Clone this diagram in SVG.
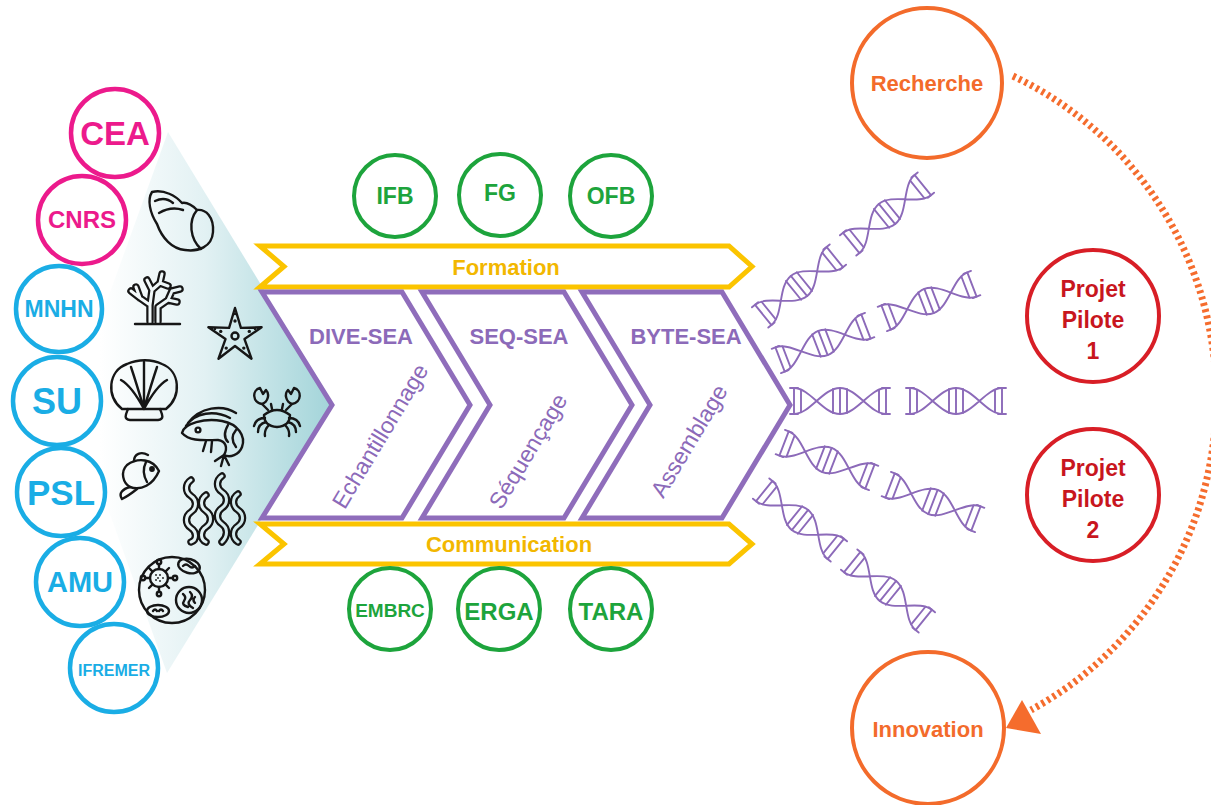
<svg xmlns="http://www.w3.org/2000/svg" width="1211" height="805" viewBox="0 0 1211 805">
  <defs>
    <!-- soft teal fan behind the marine icons -->
    <linearGradient id="sea" gradientUnits="userSpaceOnUse" x1="100" y1="0" x2="333" y2="0">
      <stop offset="0" stop-color="#ffffff"/>
      <stop offset="0.45" stop-color="#e2f1f3"/>
      <stop offset="1" stop-color="#a2d4d9"/>
    </linearGradient>
    <!-- one DNA double helix, centred on the origin -->
    <g id="helix" fill="none" stroke="#8c6ab9" stroke-width="1.9" stroke-linecap="round">
      <path d="M-46,13 C-30,13 -17,-13 0,-13 C17,-13 30,13 46,13 M-46,-13 C-30,-13 -17,13 0,13 C17,13 30,-13 46,-13"/>
      <path d="M-46,-13V13 M-39,-11.3V11.3 M-7,-12V12 M0,-13V13 M7,-12V12 M39,-11.3V11.3 M46,-13V13 M-50,-13H-42 M-50,13H-42 M42,-13H50 M42,13H50"/>
    </g>
  </defs>
  <style>
    text { font-family: "Liberation Sans", Arial, sans-serif; font-weight: bold; text-anchor: middle; }
    .pink { fill: #fff; stroke: #ec1a8c; stroke-width: 4.5; }
    .blue { fill: #fff; stroke: #1aade5; stroke-width: 4.5; }
    .green { fill: #fff; stroke: #1da43c; stroke-width: 4; }
    .red { fill: #fff; stroke: #d81e26; stroke-width: 4; }
    .orange { fill: #fff; stroke: #f36b2b; stroke-width: 4; }
    .t-pink { fill: #ec1a8c; }
    .t-blue { fill: #1aade5; }
    .t-green { fill: #1da43c; }
    .t-red { fill: #c8161e; }
    .t-orange { fill: #f36b2b; }
    .t-yellow { fill: #f2b700; }
    .t-purple { fill: #8c6ab9; }
    .banner { fill: #fff; stroke: #fbc400; stroke-width: 5; stroke-linejoin: miter; }
    .chevron { fill: #fff; stroke: #8f6dbb; stroke-width: 5; stroke-linejoin: miter; }
    .icon { fill: none; stroke: #161616; stroke-width: 2.4; stroke-linecap: round; stroke-linejoin: round; }
    .ol-out { fill: none; stroke: #161616; stroke-width: 7.5; stroke-linecap: round; stroke-linejoin: round; }
    .ol-in { fill: none; stroke: url(#sea); stroke-width: 3; stroke-linecap: round; stroke-linejoin: round; }
    .dot { fill: #161616; }
    .rot { font-weight: normal; font-size: 23px; }
  </style>

  <rect width="1211" height="805" fill="#fff"/>

  <!-- marine biodiversity fan -->
  <g id="biodiversity">
    <polygon points="168,132 333,403 167,673 70,403" fill="url(#sea)"/>
    <!-- conch -->
    <g class="icon">
      <path d="M152,192 C147,200 150,213 157,224 C162,238 172,249 185,250 C198,252 212,247 213,232 C214,217 206,209 197,210 C191,204 187,202 182,203 C176,196 164,189 152,192 Z"/>
      <path d="M155,201 Q165,196 173,203 M159,213 Q171,206 183,210 M197,210 C188,221 190,239 201,249"/>
    </g>
    <!-- coral -->
    <path class="ol-out" d="M150,321 L150,305 L140,298 L131,291 M140,298 L136,287 M150,305 L152,290 L147,280 M152,290 L160,283 L162,274 M160,283 L168,286 M158,321 L158,307 L168,300 L177,302 M168,300 L172,291 L180,289"/>
    <path class="ol-in" d="M150,323 L150,305 L140,298 L131,291 M140,298 L136,287 M150,305 L152,290 L147,280 M152,290 L160,283 L162,274 M160,283 L168,286 M158,323 L158,307 L168,300 L177,302 M168,300 L172,291 L180,289"/>
    <path class="icon" d="M135,324 L180,324"/>
    <!-- starfish -->
    <g>
      <polygon class="icon" points="235,308 240.9,327.9 261.6,327.3 244.5,339.1 251.5,358.7 235,346 218.5,358.7 225.5,339.1 208.4,327.3 229.1,327.9"/>
      <circle class="icon" cx="235" cy="336" r="3.5"/>
      <circle class="dot" cx="235" cy="321" r="1.7"/>
      <circle class="dot" cx="249.3" cy="331.4" r="1.7"/>
      <circle class="dot" cx="243.8" cy="348.1" r="1.7"/>
      <circle class="dot" cx="226.2" cy="348.1" r="1.7"/>
      <circle class="dot" cx="220.7" cy="331.4" r="1.7"/>
      <circle class="dot" cx="255" cy="329" r="1.2"/>
      <circle class="dot" cx="215" cy="329" r="1.2"/>
      <circle class="dot" cx="235" cy="314" r="1.2"/>
    </g>
    <!-- scallop -->
    <g class="icon">
      <path d="M122,409 C106,396 108,371 127,364 C138,359 152,359 162,364 C180,371 182,396 166,409 Z"/>
      <path d="M128,409 C126,414 123,419 130,420 L158,420 C165,419 162,414 160,409"/>
      <path d="M144,409 C136,394 128,384 121,380 M144,409 C139,392 134,376 131,367 M144,409 L144,362 M144,409 C149,392 154,376 157,367 M144,409 C152,394 160,384 167,380"/>
    </g>
    <!-- crab -->
    <g class="icon">
      <path d="M264,415 Q277,405 290,415 Q290,426 277,427 Q264,426 264,415 Z"/>
      <path d="M268,410 L262,404 C252,402 252,390 260,388 L263,394 L266,390 C270,394 268,402 262,404"/>
      <path d="M286,410 L292,404 C302,402 302,390 294,388 L291,394 L288,390 C284,394 286,402 292,404"/>
      <path d="M265,418 Q256,418 254,426 M266,422 Q258,424 258,432 M269,425 Q264,430 265,436 M289,418 Q298,418 300,426 M288,422 Q296,424 296,432 M285,425 Q290,430 289,436"/>
      <path d="M272,409 L271,404 M282,409 L283,404"/>
    </g>
    <!-- shrimp -->
    <g class="icon">
      <path d="M182,433 C184,423 205,418 222,421 C238,424 246,436 242,447 C239,455 230,458 224,455 C228,448 226,441 218,440 C205,440 190,442 182,433 Z"/>
      <path d="M224,455 L215,461 M224,455 L221,466 M224,455 L229,465"/>
      <circle cx="198" cy="430" r="2.4"/>
      <path d="M186,426 C195,412 215,410 230,418 M188,423 C200,407 222,404 236,413"/>
      <path d="M228,425 C224,432 224,438 228,442 M236,430 C231,436 232,442 236,447"/>
      <path d="M206,441 L203,451 M212,441 L211,452"/>
    </g>
    <!-- fish -->
    <g class="icon">
      <path d="M159,471 C153,459 138,457 127,465 C120,472 123,483 130,487 C141,491 153,485 159,471 Z"/>
      <path d="M130,487 C123,489 118,493 122,499 C128,496 132,493 137,489"/>
      <path d="M134,461 C134,454 141,451 148,455"/>
      <path d="M146,462 C143,468 143,475 147,482"/>
      <circle class="dot" cx="152" cy="469" r="1.7"/>
    </g>
    <!-- seaweed -->
    <path class="ol-out" d="M191,480 c-6,4 -6,12 0,16 c6,4 6,12 0,16 c-6,4 -6,12 0,16 c6,4 6,12 0,14 M206,495 c-6,4 -6,12 0,16 c6,4 6,12 0,16 c-6,4 -6,12 0,15 M222,476 c-6,4 -6,12 0,16 c6,4 6,12 0,16 c-6,4 -6,12 0,16 c6,4 6,12 0,18 M238,494 c-6,4 -6,12 0,16 c6,4 6,12 0,16 c-6,4 -6,12 0,16"/>
    <path class="ol-in" d="M191,480 c-6,4 -6,12 0,16 c6,4 6,12 0,16 c-6,4 -6,12 0,16 c6,4 6,12 0,14 M206,495 c-6,4 -6,12 0,16 c6,4 6,12 0,16 c-6,4 -6,12 0,15 M222,476 c-6,4 -6,12 0,16 c6,4 6,12 0,16 c-6,4 -6,12 0,16 c6,4 6,12 0,18 M238,494 c-6,4 -6,12 0,16 c6,4 6,12 0,16 c-6,4 -6,12 0,16"/>
    <!-- plankton sample -->
    <g class="icon">
      <circle cx="172" cy="590" r="33"/>
      <circle cx="159" cy="578" r="9"/>
      <path d="M159,569 V564 M168,578 H173 M159,587 V592 M150,578 H145 M165.4,571.6 L169,568 M165.4,584.4 L169,588 M152.6,584.4 L149,588 M152.6,571.6 L149,568"/>
      <circle cx="159" cy="562" r="2.2"/>
      <circle cx="175" cy="578" r="2.2"/>
      <circle cx="159" cy="594" r="2.2"/>
      <circle cx="143" cy="578" r="2.2"/>
      <ellipse cx="189" cy="566" rx="11" ry="7" transform="rotate(15 189 566)"/>
      <path d="M183,566 q3,-3 6,0 t6,0"/>
      <circle cx="189" cy="600" r="13"/>
      <path d="M183,594 q4,3 1,7 t4,6 M190,592 q4,4 0,8 t3,8 M195,597 q-3,3 0,6"/>
      <ellipse cx="158" cy="611" rx="11" ry="6"/>
      <path d="M153,611 q2,-3 4,0 M159,611 q2,-3 4,0"/>
    </g>
    <g class="dot">
      <circle cx="156" cy="575" r="0.9"/><circle cx="160" cy="575" r="0.9"/><circle cx="163" cy="578" r="0.9"/>
      <circle cx="156" cy="580" r="0.9"/><circle cx="160" cy="581" r="0.9"/><circle cx="158" cy="578" r="0.9"/>
    </g>
  </g>

  <!-- partner institutions -->
  <g id="cea"><circle class="pink" cx="115" cy="133" r="44"/><text class="t-pink" x="115" y="145" font-size="33">CEA</text></g>
  <g id="cnrs"><circle class="pink" cx="82" cy="220" r="44"/><text class="t-pink" x="82" y="228" font-size="24">CNRS</text></g>
  <g id="mnhn"><circle class="blue" cx="59" cy="309" r="43"/><text class="t-blue" x="59" y="317" font-size="23">MNHN</text></g>
  <g id="su"><circle class="blue" cx="57" cy="401" r="44"/><text class="t-blue" x="57" y="414" font-size="36">SU</text></g>
  <g id="psl"><circle class="blue" cx="61" cy="492" r="44"/><text class="t-blue" x="61" y="505" font-size="35">PSL</text></g>
  <g id="amu"><circle class="blue" cx="80" cy="582" r="44"/><text class="t-blue" x="80" y="592" font-size="29">AMU</text></g>
  <g id="ifremer"><circle class="blue" cx="114" cy="668" r="44"/><text class="t-blue" x="114" y="676" font-size="16">IFREMER</text></g>

  <!-- training / outreach banners -->
  <g id="formation">
    <polygon class="banner" points="260,246 729,246 752,266.5 729,287 260,287 284,266.5"/>
    <text class="t-yellow" x="506" y="275" font-size="22">Formation</text>
  </g>
  <g id="communication">
    <polygon class="banner" points="260,524 729,524 752,544 729,564 260,564 284,544"/>
    <text class="t-yellow" x="509" y="552" font-size="22">Communication</text>
  </g>

  <!-- pipeline steps -->
  <g id="dive-sea">
    <polygon class="chevron" points="262,292 402,292 470,405 402,518 262,518 332,405"/>
    <text class="t-purple" x="361" y="344" font-size="22">DIVE-SEA</text>
    <text class="t-purple rot" transform="translate(380,436) rotate(-59)" dy="8">Echantillonnage</text>
  </g>
  <g id="seq-sea">
    <polygon class="chevron" points="422,292 564,292 632,405 564,518 422,518 490,405"/>
    <text class="t-purple" x="519" y="344" font-size="22">SEQ-SEA</text>
    <text class="t-purple rot" transform="translate(528,451) rotate(-59)" dy="8">Séquençage</text>
  </g>
  <g id="byte-sea">
    <polygon class="chevron" points="582,292 722,292 790,405 722,518 582,518 650,405"/>
    <text class="t-purple" x="686" y="344" font-size="22">BYTE-SEA</text>
    <text class="t-purple rot" transform="translate(689,441) rotate(-59)" dy="8">Assemblage</text>
  </g>

  <!-- infrastructures -->
  <g id="ifb"><circle class="green" cx="395" cy="196" r="41"/><text class="t-green" x="395" y="204" font-size="23">IFB</text></g>
  <g id="fg"><circle class="green" cx="500" cy="195" r="41"/><text class="t-green" x="500" y="201" font-size="23">FG</text></g>
  <g id="ofb"><circle class="green" cx="611" cy="196" r="41"/><text class="t-green" x="611" y="204" font-size="23">OFB</text></g>
  <g id="embrc"><circle class="green" cx="390" cy="609" r="41"/><text class="t-green" x="390" y="617" font-size="19">EMBRC</text></g>
  <g id="erga"><circle class="green" cx="499" cy="609" r="41"/><text class="t-green" x="499" y="620" font-size="24">ERGA</text></g>
  <g id="tara"><circle class="green" cx="611" cy="609" r="41"/><text class="t-green" x="611" y="620" font-size="24">TARA</text></g>

  <!-- genomes produced -->
  <g id="genomes">
    <use href="#helix" transform="translate(799,286) rotate(-39)"/>
    <use href="#helix" transform="translate(887,214) rotate(-39)"/>
    <use href="#helix" transform="translate(823,343) rotate(-21)"/>
    <use href="#helix" transform="translate(929,301) rotate(-21)"/>
    <use href="#helix" transform="translate(840,401)"/>
    <use href="#helix" transform="translate(956,401)"/>
    <use href="#helix" transform="translate(827,460) rotate(21)"/>
    <use href="#helix" transform="translate(933,502) rotate(21)"/>
    <use href="#helix" transform="translate(800,520) rotate(39)"/>
    <use href="#helix" transform="translate(888,591) rotate(39)"/>
  </g>

  <!-- outcomes -->
  <g id="recherche"><circle class="orange" cx="927" cy="83" r="75"/><text class="t-orange" x="927" y="91" font-size="22">Recherche</text></g>
  <g id="projet-pilote-1">
    <circle class="red" cx="1093" cy="316" r="66"/>
    <text class="t-red" font-size="23"><tspan x="1093" y="297">Projet</tspan><tspan x="1093" y="328">Pilote</tspan><tspan x="1093" y="359">1</tspan></text>
  </g>
  <g id="projet-pilote-2">
    <circle class="red" cx="1093" cy="495" r="66"/>
    <text class="t-red" font-size="23"><tspan x="1093" y="476">Projet</tspan><tspan x="1093" y="507">Pilote</tspan><tspan x="1093" y="538">2</tspan></text>
  </g>
  <g id="innovation"><circle class="orange" cx="928" cy="728" r="76"/><text class="t-orange" x="928" y="737" font-size="22">Innovation</text></g>

  <!-- research-to-innovation loop -->
  <g id="connectors">
    <path d="M1013,76 A356,356 0 0 1 1031,710" fill="none" stroke="#f56c2d" stroke-width="7" stroke-dasharray="3 3.5"/>
    <polygon points="1006,728 1022,700 1041,734" fill="#f56c2d"/>
  </g>
</svg>
